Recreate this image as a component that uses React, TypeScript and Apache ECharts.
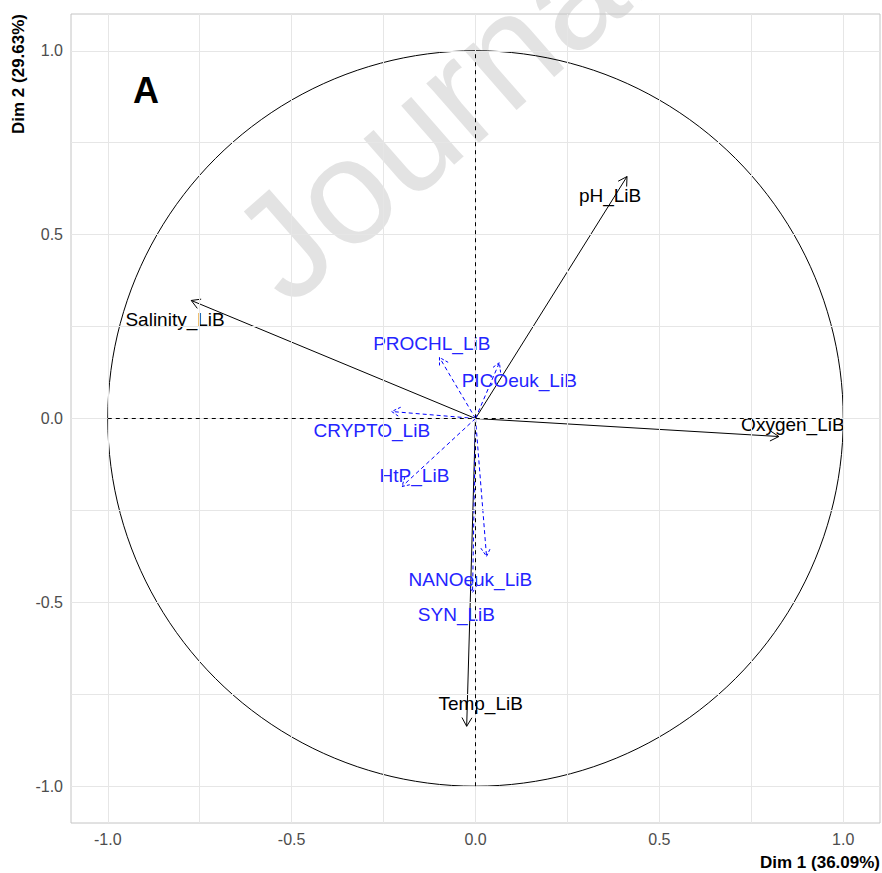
import React, { useEffect, useRef } from "react";
import * as echarts from "echarts";

const varNames = [
  "pH_LiB", "Salinity_LiB", "Oxygen_LiB", "Temp_LiB",
  "PROCHL_LiB", "PICOeuk_LiB", "CRYPTO_LiB", "HtP_LiB", "NANOeuk_LiB", "SYN_LiB",
];
const varType = ["env", "env", "env", "env", "bio", "bio", "bio", "bio", "bio", "bio"];
const dim1 = [0.412, -0.773, 0.825, -0.024, -0.098, 0.065, -0.228, -0.200, 0.030, -0.008];
const dim2 = [0.658, 0.321, -0.049, -0.837, 0.166, 0.152, 0.019, -0.185, -0.375, -0.473];
const labelX = [0.366, -0.817, 0.863, 0.014, -0.119, 0.119, -0.282, -0.166, -0.014, -0.052];
const labelY = [0.606, 0.269, -0.016, -0.774, 0.204, 0.103, -0.033, -0.155, -0.438, -0.533];
const tickValues = [-1, -0.5, 0, 0.5, 1];
const gridValues = [-1, -0.75, -0.5, -0.25, 0, 0.25, 0.5, 0.75, 1];

const FONT = "'Liberation Sans', Arial, sans-serif";

export default function App() {
  const ref = useRef<HTMLDivElement>(null);
  useEffect(() => {
    if (!ref.current) return;
    const chart = echarts.init(ref.current, null, { renderer: "svg" });
    const axisCommon = {
      type: "value" as const,
      min: -1.1,
      max: 1.1,
      splitLine: { show: false },
      axisLine: { show: false },
      axisTick: {
        show: true,
        length: 4,
        customValues: tickValues,
        lineStyle: { color: "#c4c4c4", width: 1 },
      },
      axisLabel: {
        customValues: tickValues,
        color: "#4d4d4d",
        fontSize: 16,
        fontFamily: FONT,
        formatter: (v: number) => v.toFixed(1),
      },
    };
    const option: any = {
      animation: false,
      grid: {
        left: 71, right: 2, top: 14, bottom: 50,
        show: true, borderColor: "#c4c4c4", borderWidth: 1, backgroundColor: "transparent",
      },
      xAxis: { ...axisCommon, axisLabel: { ...axisCommon.axisLabel, margin: 8 } },
      yAxis: { ...axisCommon, axisLabel: { ...axisCommon.axisLabel, margin: 8 } },
      graphic: [
        {
          type: "text", z: -10, x: 255, y: 270, rotation: 0.72,
          style: {
            text: "Journal", fill: "#e3e3e3", fontSize: 150, fontFamily: FONT,
            align: "left", verticalAlign: "middle",
          },
        },
        {
          type: "text", z: 10, x: 146, y: 90,
          style: {
            text: "A", fill: "#000", fontSize: 36, fontWeight: "bold", fontFamily: FONT,
            align: "center", verticalAlign: "middle",
          },
        },
        {
          type: "text", z: 10, x: 880, y: 862,
          style: {
            text: "Dim 1 (36.09%)", fill: "#000", fontSize: 17, fontWeight: "bold", fontFamily: FONT,
            align: "right", verticalAlign: "middle",
          },
        },
        {
          type: "text", z: 10, x: 18, y: 14, rotation: Math.PI / 2,
          style: {
            text: "Dim 2 (29.63%)", fill: "#000", fontSize: 17, fontWeight: "bold", fontFamily: FONT,
            align: "right", verticalAlign: "middle",
          },
        },
      ],
      series: [
        {
          type: "line",
          z: 0,
          data: [],
          silent: true,
          markLine: {
            silent: true,
            symbol: ["none", "none"],
            label: { show: false },
            lineStyle: { color: "#e6e6e6", width: 1, type: "solid" },
            data: [
              ...gridValues.map((v) => ({ xAxis: v })),
              ...gridValues.map((v) => ({ yAxis: v })),
            ],
          },
        },
        {
          type: "line",
          z: 3,
          data: [],
          silent: true,
          markLine: {
            silent: true,
            symbol: ["none", "none"],
            label: { show: false },
            lineStyle: { color: "#000", width: 1, type: [4, 4] },
            data: [
              [{ coord: [-1, 0] }, { coord: [1, 0] }],
              [{ coord: [0, -1] }, { coord: [0, 1] }],
            ],
          },
        },
        {
          type: "custom",
          z: 3,
          silent: true,
          data: [[0, 0, 1]],
          renderItem: (params: any, api: any) => {
            const c = api.coord([api.value(0), api.value(1)]);
            const r = api.size([api.value(2), 0])[0];
            return {
              type: "circle",
              shape: { cx: c[0], cy: c[1], r },
              style: { stroke: "#000", fill: "none", lineWidth: 1 },
            };
          },
        },
        {
          type: "custom",
          z: 4,
          silent: true,
          data: varNames.map((n, i) => [dim1[i], dim2[i], labelX[i], labelY[i], i]),
          renderItem: (params: any, api: any) => {
            const i = params.dataIndex;
            const o = api.coord([0, 0]);
            const p = api.coord([api.value(0), api.value(1)]);
            const l = api.coord([api.value(2), api.value(3)]);
            const bio = varType[i] === "bio";
            const color = bio ? "#0000ff" : "#000000";
            const ang = Math.atan2(p[1] - o[1], p[0] - o[0]);
            const L = 10;
            const A = Math.PI / 6;
            const h1 = [p[0] - L * Math.cos(ang - A), p[1] - L * Math.sin(ang - A)];
            const h2 = [p[0] - L * Math.cos(ang + A), p[1] - L * Math.sin(ang + A)];
            return {
              type: "group",
              children: [
                {
                  type: "line",
                  shape: { x1: o[0], y1: o[1], x2: p[0], y2: p[1] },
                  style: { stroke: color, lineWidth: 1, lineDash: bio ? [4, 3] : null },
                },
                {
                  type: "polyline",
                  shape: { points: [h1, p, h2] },
                  style: { stroke: color, fill: "none", lineWidth: 1, lineDash: bio ? [3, 2] : null },
                },
                {
                  type: "text",
                  x: l[0],
                  y: l[1],
                  style: {
                    text: varNames[i],
                    fill: bio ? "#2424ff" : "#000",
                    fontSize: 19,
                    fontFamily: FONT,
                    align: "center",
                    verticalAlign: "middle",
                  },
                },
              ],
            };
          },
        },
      ],
    };
    chart.setOption(option);
    return () => chart.dispose();
  }, []);
  return (
    <div
      ref={ref}
      style={{ position: "fixed", left: 0, top: 0, width: 882, height: 873, background: "#fff" }}
    />
  );
}
